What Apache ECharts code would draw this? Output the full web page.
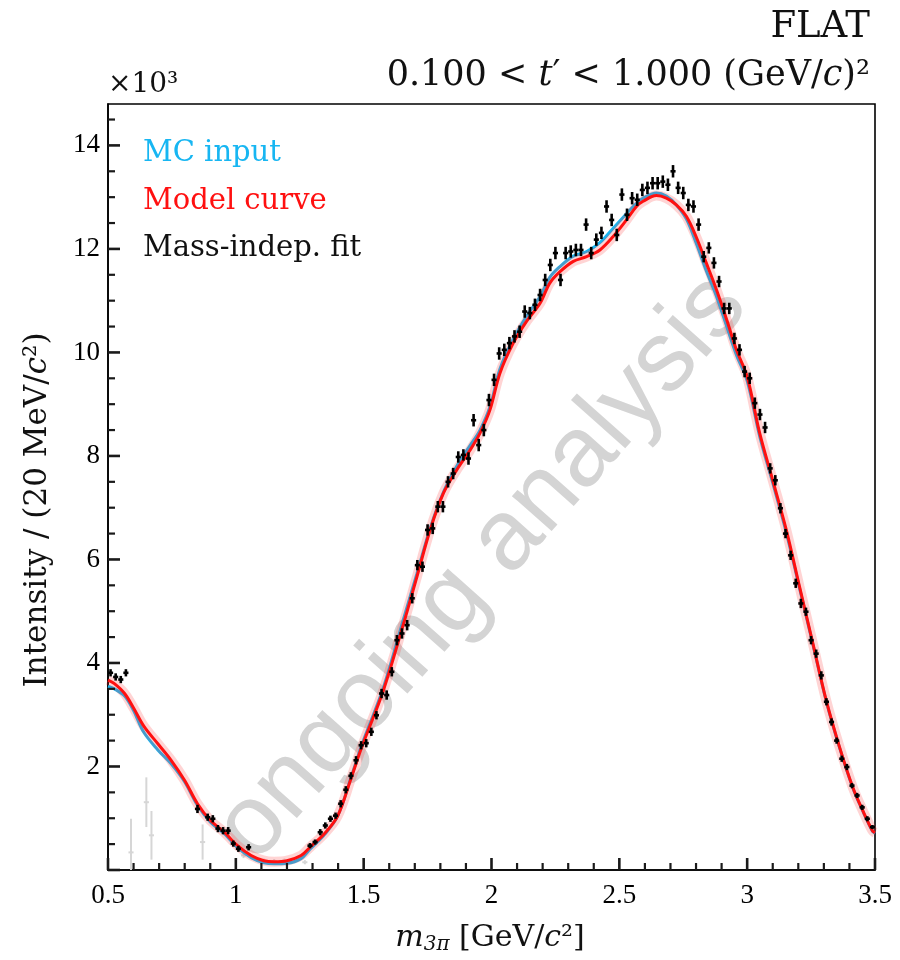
<!DOCTYPE html>
<html><head><meta charset="utf-8">
<script src="https://cdn.jsdelivr.net/npm/echarts@6/dist/echarts.min.js"></script>
<style>html,body{margin:0;padding:0;background:#fff}#c{width:900px;height:960px}</style>
</head><body><div id="c"></div>
<script>
// 20 MeV bins from 0.5 to 3.5 GeV/c^2 (bin centres 0.51 ... 3.49); intensity in units of 10^3
const binFirstCentre = 0.51, binWidth = 0.02;
const fitValues = [
 3.81,3.73,3.68,3.81,null,null,null,null,null,null,
 null,null,null,null,null,null,null,1.18,null,1.02,
 0.99,0.80,0.76,0.76,0.51,0.41,null,0.44,null,null,
 null,null,null,null,null,null,null,null,null,0.47,
 0.54,0.73,0.86,0.99,1.05,1.28,1.55,1.82,2.12,2.41,
 2.45,2.67,2.99,3.41,3.38,3.83,4.44,4.57,4.73,5.25,
 5.89,5.86,6.57,6.60,7.02,7.02,7.50,7.66,7.98,8.02,
 7.95,8.69,8.21,8.50,9.08,9.47,9.98,10.05,10.18,10.31,
 10.40,10.79,10.76,10.92,11.11,11.40,11.69,11.92,11.40,11.92,
 11.95,11.98,11.98,12.47,11.92,12.18,12.31,12.82,12.56,12.27,
 13.05,12.66,12.98,12.95,13.14,13.18,13.27,13.27,13.30,13.24,
 13.50,13.18,13.08,12.85,12.82,12.47,11.85,12.02,11.73,11.37,
 10.85,10.85,10.27,10.05,9.63,9.50,9.02,8.80,8.55,7.76,
 7.53,6.99,6.50,6.08,5.54,5.15,4.99,4.44,4.18,3.76,
 3.25,2.86,2.50,2.15,1.99,1.63,1.44,1.21,0.99,0.83
];
const fitErrors = [
 0.07,0.07,0.07,0.07,null,null,null,null,null,null,
 null,null,null,null,null,null,null,0.08,null,0.07,
 0.07,0.07,0.07,0.07,0.06,0.06,null,0.06,null,null,
 null,null,null,null,null,null,null,null,null,0.05,
 0.05,0.06,0.06,0.06,0.06,0.07,0.07,0.07,0.08,0.08,
 0.08,0.08,0.08,0.09,0.09,0.09,0.10,0.10,0.10,0.10,
 0.10,0.10,0.11,0.11,0.11,0.11,0.11,0.11,0.11,0.11,
 0.12,0.12,0.12,0.12,0.12,0.12,0.12,0.12,0.12,0.12,
 0.12,0.12,0.12,0.12,0.12,0.12,0.12,0.12,0.12,0.12,
 0.12,0.12,0.12,0.12,0.12,0.12,0.12,0.12,0.12,0.12,
 0.12,0.12,0.12,0.12,0.12,0.12,0.12,0.12,0.12,0.12,
 0.12,0.12,0.12,0.12,0.12,0.12,0.11,0.11,0.11,0.11,
 0.11,0.11,0.11,0.11,0.11,0.11,0.11,0.11,0.11,0.10,
 0.10,0.10,0.09,0.09,0.09,0.09,0.08,0.08,0.08,0.08,
 0.07,0.07,0.06,0.06,0.06,0.05,0.05,0.05,0.05,0.04
];
// low-significance (faded) points
const faintMass   = [0.59, 0.65, 0.67, 0.87, 1.03, 1.11, 1.15, 1.19, 1.27];
const faintValues = [0.34, 1.31, 0.67, 0.54, 0.28, 0.18, 0.17, 0.18, 0.15];
const faintErrors = [0.65, 0.48, 0.47, 0.34, 0.05, 0.04, 0.04, 0.04, 0.04];

const curveMass = [0.50,0.525,0.565,0.60,0.64,0.695,0.747,0.80,0.85,0.90,0.955,1.007,1.06,1.11,1.15,1.20,1.255,1.29,1.346,1.398,
 1.45,1.493,1.577,1.656,1.708,1.76,1.812,1.864,1.916,1.955,1.994,2.033,2.085,2.137,2.19,2.228,2.268,2.32,2.372,2.424,
 2.476,2.528,2.567,2.593,2.645,2.684,2.723,2.762,2.80,2.84,2.88,2.92,2.958,3.00,3.049,3.10,3.153,3.205,3.257,3.309,
 3.361,3.413,3.452,3.49,3.50];
const modelValues = [3.67,3.60,3.41,3.13,2.78,2.44,2.12,1.73,1.28,0.96,0.73,0.47,0.28,0.18,0.16,0.18,0.28,0.44,0.70,1.04,
 1.76,2.38,3.47,4.76,5.66,6.57,7.28,7.73,8.11,8.44,8.89,9.60,10.18,10.60,10.95,11.34,11.56,11.76,11.85,11.98,
 12.24,12.56,12.82,12.92,13.03,12.98,12.85,12.63,12.24,11.73,11.21,10.63,10.05,9.53,8.44,7.53,6.57,5.47,4.38,3.28,
 2.38,1.60,1.15,0.76,0.72];
const mcValues = [3.55,3.50,3.36,3.08,2.66,2.32,2.05,1.70,1.25,0.93,0.70,0.43,0.24,0.14,0.12,0.13,0.22,0.40,0.68,1.04,
 1.78,2.42,3.52,4.85,5.72,6.60,7.30,7.80,8.20,8.50,8.95,9.68,10.26,10.70,11.08,11.45,11.66,11.86,11.95,12.12,
 12.40,12.68,12.88,12.98,13.08,13.02,12.85,12.58,12.12,11.58,11.08,10.50,9.95,9.45,8.38,7.48,6.52,5.44,4.36,3.27,
 2.37,1.59,1.14,0.75,0.71];

const xTickLabels = ['0.5','1','1.5','2','2.5','3','3.5'];
const yTickLabels = ['2','4','6','8','10','12','14'];

const CYAN = '#17b6f2', RED = '#ff1010', SERIF = 'DejaVu Serif', TICKFONT = 'Liberation Serif';
const X_MIN = 0.5, X_MAX = 3.5, Y_MIN = 0, Y_MAX = 14.8;

const fitData = [];
fitValues.forEach((v, i) => { if (v !== null) fitData.push([+(binFirstCentre + i * binWidth).toFixed(2), v, fitErrors[i]]); });
const faintData = faintMass.map((m, i) => [m, faintValues[i], faintErrors[i]]);
const modelData = curveMass.map((m, i) => [m, modelValues[i]]);
const mcData = curveMass.map((m, i) => [m, mcValues[i]]);

// inward axis tick marks (major + minor), placed through the axes' own scales
const tickItems = [];
for (let k = 0; k <= 30; k++) { const v = +(X_MIN + k * 0.1).toFixed(2); tickItems.push([v, Y_MIN, k % 5 === 0 ? 12 : 7, 0]); }
for (let k = 0; k <= 29; k++) { const v = +(k * 0.5).toFixed(2); tickItems.push([X_MIN, v, k % 4 === 0 ? 12 : 7, 1]); }

function errRender(color, lw) {
  return function (params, api) {
    const x = api.value(0), y = api.value(1), e = api.value(2);
    const top = api.coord([x, y + e]), bot = api.coord([x, y - e]);
    const l = api.coord([x - binWidth / 2, y]), r = api.coord([x + binWidth / 2, y]);
    return { type: 'group', children: [
      { type: 'line', shape: { x1: top[0], y1: top[1], x2: bot[0], y2: bot[1] }, style: { stroke: color, lineWidth: lw } },
      { type: 'line', shape: { x1: l[0], y1: l[1], x2: r[0], y2: r[1] }, style: { stroke: color, lineWidth: lw } }
    ]};
  };
}
function tickRender(params, api) {
  const p = api.coord([api.value(0), api.value(1)]), len = api.value(2), vertical = api.value(3) === 0;
  const shape = vertical ? { x1: p[0], y1: p[1], x2: p[0], y2: p[1] - len } : { x1: p[0], y1: p[1], x2: p[0] + len, y2: p[1] };
  return { type: 'group', children: [{ type: 'line', shape: shape, style: { stroke: '#1a1a1a', lineWidth: len > 8 ? 2.6 : 2.2 } }] };
}

const chart = echarts.init(document.getElementById('c'), null, { renderer: 'canvas' });
const yFmt = v => { const k = Math.round(v); return (Math.abs(v - k) < 1e-6 && k > 0 && yTickLabels.indexOf(String(k)) >= 0) ? String(k) : ''; };
const xFmt = v => { const s = String(+v.toFixed(2)); return xTickLabels.indexOf(s) >= 0 ? s : ''; };
const axisLineStyle = { show: true, lineStyle: { color: '#000', width: 1.6 } };
chart.setOption({
  animation: false,
  backgroundColor: '#fff',
  grid: { left: 108, right: 25, top: 104, bottom: 90, show: true, borderColor: '#000', borderWidth: 1.6, containLabel: false, outerBoundsMode: 'none' },
  xAxis: {
    type: 'value', min: X_MIN, max: X_MAX, interval: 0.5,
    axisLine: axisLineStyle,
    axisTick: { show: false },
    splitLine: { show: false },
    axisLabel: { color: '#000', fontFamily: TICKFONT, fontSize: 27, margin: 12, formatter: xFmt }
  },
  yAxis: {
    type: 'value', min: Y_MIN, max: Y_MAX, interval: 2, position: 'left',
    axisLine: axisLineStyle,
    axisTick: { show: false },
    splitLine: { show: false },
    axisLabel: { color: '#000', fontFamily: TICKFONT, fontSize: 27, margin: 8, formatter: yFmt }
  },
  legend: {
    left: 133, top: 134, orient: 'vertical', itemGap: 18.5, itemWidth: 0, itemHeight: 0, icon: 'none',
    selectedMode: false,
    textStyle: { fontFamily: SERIF, fontSize: 29 },
    data: [
      { name: 'MC input', icon: 'none', textStyle: { color: CYAN } },
      { name: 'Model curve', icon: 'none', textStyle: { color: RED } },
      { name: 'Mass-indep. fit', icon: 'none', textStyle: { color: '#111' } }
    ]
  },
  graphic: [
    { type: 'text', x: 482, y: 568, rotation: 0.845, z: 0, zlevel: 0, silent: true,
      style: { text: 'ongoing analysis', fontFamily: 'Liberation Sans', fontSize: 100, fill: '#d4d4d4', align: 'center', verticalAlign: 'middle' } },
    { type: 'text', x: 870, y: 27, style: { text: 'FLAT', fontFamily: SERIF, fontSize: 37, fill: '#111', align: 'right', verticalAlign: 'middle' } },
    { type: 'text', x: 870, y: 76, style: { text: '0.100 < {i|t}′ < 1.000 (GeV/{i|c})²', fontFamily: SERIF, fontSize: 35, fill: '#111', align: 'right', verticalAlign: 'middle',
        rich: { i: { fontFamily: SERIF, fontSize: 35, fontStyle: 'italic', fill: '#111' } } } },
    { type: 'text', x: 108, y: 85, style: { text: '×10³', fontFamily: SERIF, fontSize: 28, fill: '#111', align: 'left', verticalAlign: 'middle' } },
    { type: 'text', x: 38, y: 510, rotation: Math.PI / 2, style: { text: 'Intensity / (20 MeV/{i|c}²)', fontFamily: SERIF, fontSize: 31, fill: '#111', align: 'center', verticalAlign: 'middle',
        rich: { i: { fontFamily: SERIF, fontSize: 31, fontStyle: 'italic', fill: '#111' } } } },
    { type: 'text', x: 490, y: 938, style: { text: '{i|m}{s|3π} [GeV/{i|c}²]', fontFamily: SERIF, fontSize: 30, fill: '#111', align: 'center', verticalAlign: 'middle',
        rich: { i: { fontFamily: SERIF, fontSize: 30, fontStyle: 'italic', fill: '#111', lineHeight: 34 },
                s: { fontFamily: SERIF, fontSize: 20, fontStyle: 'italic', fill: '#111', lineHeight: 14, verticalAlign: 'bottom' } } } }
  ],
  series: [
    { name: 'axis ticks', type: 'custom', renderItem: tickRender, data: tickItems, clip: false, z: 10, silent: true,
      encode: { x: 0, y: 1 } },
    { name: 'Mass-indep. fit (faint)', type: 'custom', renderItem: errRender('#d6d6d6', 2), data: faintData, clip: true, z: 2,
      encode: { x: 0, y: 1 } },
    { name: 'MC input', type: 'line', data: mcData, smooth: 0.35, showSymbol: false, z: 3, clip: true,
      lineStyle: { color: CYAN, width: 3 }, itemStyle: { color: CYAN } },
    { name: 'Model band', type: 'line', data: modelData, smooth: 0.35, showSymbol: false, z: 4, clip: true,
      lineStyle: { color: 'rgba(255,60,60,0.22)', width: 10 } },
    { name: 'Model curve', type: 'line', data: modelData, smooth: 0.35, showSymbol: false, z: 5, clip: true,
      lineStyle: { color: RED, width: 3 }, itemStyle: { color: RED } },
    { name: 'Mass-indep. fit', type: 'custom', renderItem: errRender('#000', 2.6), data: fitData, clip: true, z: 6,
      encode: { x: 0, y: 1 }, itemStyle: { color: '#000' } }
  ]
});
</script></body></html>
